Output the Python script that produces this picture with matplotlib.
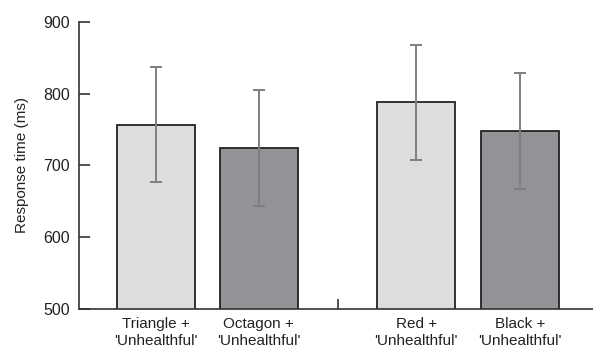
import numpy as np
import matplotlib.pyplot as plt

plt.rcParams['font.family'] = ['Liberation Sans', 'DejaVu Sans']

# data
labels = ["Triangle +\n'Unhealthful'", "Octagon +\n'Unhealthful'",
          "Red +\n'Unhealthful'", "Black +\n'Unhealthful'"]
means = [757, 724, 788, 748]
errors = [80, 81, 80, 81]
xpos = [0, 1, 2.53, 3.54]
colors = ['#dcdddf', '#929396', '#dcdddf', '#929396']

fig = plt.figure(figsize=(5.93, 3.51), dpi=100)
ax = fig.add_axes([0.1332, 0.1197, 0.8668, 0.8177])

ax.bar(xpos, means, width=0.757, color=colors, edgecolor='#222222',
       linewidth=1.3, zorder=2)
ax.errorbar(xpos, means, yerr=errors, fmt='none', ecolor='#7f7f7f',
            elinewidth=1.4, capsize=4.5, capthick=1.4, zorder=3)

ax.set_ylim(500, 900)
ax.set_xlim(-0.745, 4.246)
ax.set_yticks([500, 600, 700, 800, 900])
ax.set_xticks(xpos)
ax.set_xticklabels(labels, fontsize=11, linespacing=1.2, color='#222222')
ax.set_xticks([1.767], minor=True)

ax.tick_params(axis='y', direction='in', length=8, width=1.2,
               color='#333333', labelsize=11.5, pad=6.5, labelcolor='#222222')
ax.tick_params(axis='x', which='major', length=0, pad=6)
ax.tick_params(axis='x', which='minor', direction='in', length=7.5,
               width=1.2, color='#333333')

ax.set_ylabel('Response time (ms)', fontsize=11, labelpad=10, color='#222222')

for s in ['top', 'right']:
    ax.spines[s].set_visible(False)
for s in ['left', 'bottom']:
    ax.spines[s].set_color('#333333')
    ax.spines[s].set_linewidth(1.2)

fig.savefig('out.png', dpi=100)
